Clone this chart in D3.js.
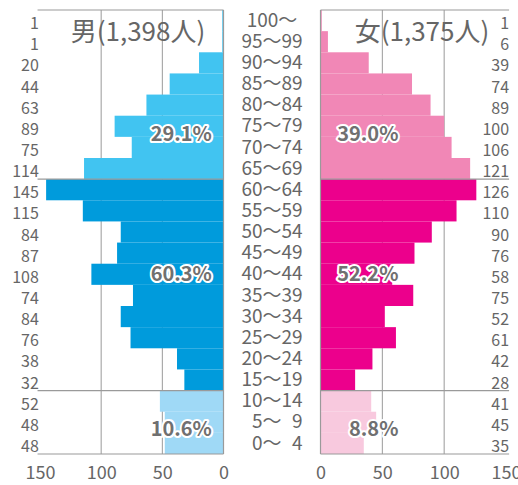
<!DOCTYPE html>
<html>
<head>
<meta charset="utf-8">
<script src="https://cdn.jsdelivr.net/npm/d3@7"></script>
<style>
  body { margin: 0; background: #fff; }
  text { font-family: "Noto Sans CJK JP", "Noto Sans", sans-serif; fill: #666; }
</style>
</head>
<body>
<svg width="518" height="485"></svg>
<script>
// age groups from top (oldest) to bottom
const ages = ['100～', '95～99', '90～94', '85～89', '80～84', '75～79', '70～74', '65～69',
  '60～64', '55～59', '50～54', '45～49', '40～44', '35～39', '30～34', '25～29',
  '20～24', '15～19', '10～14', '\u20075～\u20079', '\u20070～\u20074']
const male = [1, 1, 20, 44, 63, 89, 75, 114, 145, 115, 84, 87, 108, 74, 84, 76, 38, 32, 52, 48, 48]
const female = [1, 6, 39, 74, 89, 100, 106, 121, 126, 110, 90, 76, 58, 75, 52, 61, 42, 28, 41, 45, 35]
const ticks = [0, 50, 100, 150]
const titleMale = '男(1,398人)'
const titleFemale = '女(1,375人)'
// share per group: 65+, 15-64, 0-14
const malePct = ['29.1%', '60.3%', '10.6%']
const femalePct = ['39.0%', '52.2%', '8.8%']

const groupOf = i => i < 8 ? 0 : (i < 18 ? 1 : 2)
const maleColors = ['#41c4f1', '#009bdc', '#9fd9f6']
const femaleColors = ['#f187b6', '#ec008c', '#f8c9de']

const svg = d3.select('svg')
const yTop = 10, yBottom = 454

const y = d3.scaleBand().domain(ages).range([yTop, yBottom]).padding(0)
const yRow = d3.scaleLinear().domain([0, ages.length]).range([yTop, yBottom])
const xL = d3.scaleLinear().domain([0, 150]).range([223.5, 40])
const xR = d3.scaleLinear().domain([0, 150]).range([320.5, 506])

const gridColor = '#9a9a9a'

// vertical grid under bars
const drawGrid = (x) => {
  svg.append('g').selectAll('line').data([50, 100]).enter().append('line')
    .attr('x1', d => x(d)).attr('x2', d => x(d))
    .attr('y1', yTop).attr('y2', yBottom)
    .attr('stroke', gridColor).attr('stroke-width', 1)
}
drawGrid(xL)
drawGrid(xR)

// bars
svg.append('g').selectAll('rect').data(male).enter().append('rect')
  .attr('x', d => xL(d))
  .attr('y', (d, i) => y(ages[i]))
  .attr('width', d => xL(0) - xL(d))
  .attr('height', y.bandwidth())
  .attr('fill', (d, i) => maleColors[groupOf(i)])

svg.append('g').selectAll('rect').data(female).enter().append('rect')
  .attr('x', xR(0))
  .attr('y', (d, i) => y(ages[i]))
  .attr('width', d => xR(d) - xR(0))
  .attr('height', y.bandwidth())
  .attr('fill', (d, i) => femaleColors[groupOf(i)])

// frame lines: top, group splits, bottom + zero axis
const hLines = [0, 8, 18, 21]
const drawFrame = (x, far) => {
  const g = svg.append('g')
  g.selectAll('line.h').data(hLines).enter().append('line')
    .attr('x1', x(0)).attr('x2', x(far))
    .attr('y1', d => yRow(d)).attr('y2', d => yRow(d))
    .attr('stroke', gridColor).attr('stroke-width', 1.2)
  g.append('line')
    .attr('x1', x(0)).attr('x2', x(0))
    .attr('y1', yTop).attr('y2', yBottom)
    .attr('stroke', gridColor).attr('stroke-width', 1.2)
}
drawFrame(xL, 152)
drawFrame(xR, 152.5)

// count labels
svg.append('g').selectAll('text').data(male).enter().append('text')
  .attr('x', xL(151))
  .attr('y', (d, i) => y(ages[i]) + y.bandwidth() - 2)
  .attr('text-anchor', 'end')
  .style('font-size', '16px')
  .text(d => d)

svg.append('g').selectAll('text').data(female).enter().append('text')
  .attr('x', xR(152.5))
  .attr('y', (d, i) => y(ages[i]) + y.bandwidth() - 2)
  .attr('text-anchor', 'end')
  .style('font-size', '16px')
  .text(d => d)

// age labels in the middle
svg.append('g').selectAll('text').data(ages).enter().append('text')
  .attr('x', (xL(0) + xR(0)) / 2)
  .attr('y', d => y(d) + y.bandwidth() - 4.5)
  .attr('text-anchor', 'middle')
  .style('font-size', '19px')
  .text(d => d)

// titles
svg.append('text').attr('x', 138).attr('y', 41)
  .attr('text-anchor', 'middle').style('font-size', '26px').text(titleMale)
svg.append('text').attr('x', 422).attr('y', 41)
  .attr('text-anchor', 'middle').style('font-size', '26px').text(titleFemale)

// share labels
const pctRows = [6.2, 12.82, 20.15]
const pctStyle = sel => sel
  .attr('text-anchor', 'end')
  .style('font-size', '20px')
  .style('font-weight', 'bold')
  .style('fill', '#707070')
  .style('stroke', '#fff')
  .style('stroke-width', '4px')
  .style('stroke-linejoin', 'round')
  .style('paint-order', 'stroke')

svg.append('g').selectAll('text').data(malePct).enter().append('text')
  .attr('x', xL(9.5)).attr('y', (d, i) => yRow(pctRows[i]))
  .call(pctStyle).text(d => d)
svg.append('g').selectAll('text').data(femalePct).enter().append('text')
  .attr('x', xR(63)).attr('y', (d, i) => yRow(pctRows[i]))
  .call(pctStyle).text(d => d)

// bottom axes
const axisL = d3.axisBottom(xL).tickValues(ticks).tickSize(0).tickPadding(0)
const axisR = d3.axisBottom(xR).tickValues(ticks).tickSize(0).tickPadding(0)
const gL = svg.append('g').attr('transform', 'translate(0,466)').call(axisL)
const gR = svg.append('g').attr('transform', 'translate(0,466)').call(axisR)
;[gL, gR].forEach(g => {
  g.select('.domain').remove()
  g.selectAll('text')
    .style('font-size', '18px')
    .style('fill', '#666')
    .style('font-family', '"Noto Sans CJK JP", "Noto Sans", sans-serif')
})
</script>
</body>
</html>
